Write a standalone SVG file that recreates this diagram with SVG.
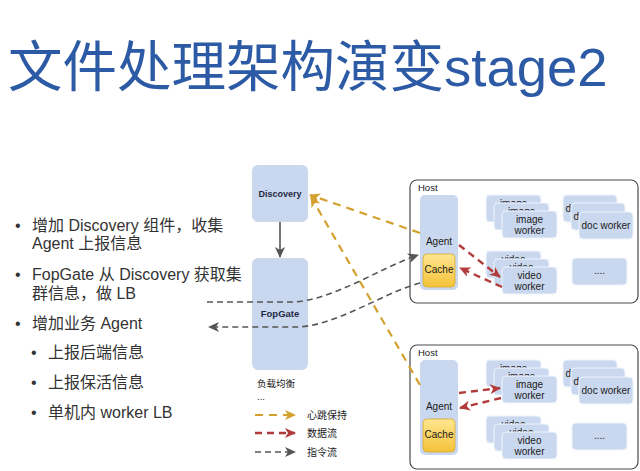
<svg xmlns="http://www.w3.org/2000/svg" width="640" height="471" viewBox="0 0 640 471">
<style>
text{font-family:"Liberation Sans","Noto Sans CJK SC",sans-serif}
.title{font-size:54.5px;fill:#2c5aa4}
.bl{font-size:16px;fill:#333}
.node{fill:#cad8ef}
.card{fill:#cad8ef;stroke:#eef3fb;stroke-width:1}
.nt{font-size:9.5px;font-weight:bold;fill:#1f2a44;text-anchor:middle}
.wt{font-size:10px;fill:#1a1a1a;text-anchor:middle}
.sm{font-size:9.5px;fill:#1a1a1a}
.host{fill:#fff;stroke:#4a4a4a;stroke-width:1.2}
.y{fill:none;stroke:#d4a12e;stroke-width:2.2;stroke-dasharray:8 6}
.r{fill:none;stroke:#b23b3b;stroke-width:2.4;stroke-dasharray:7 5}
.g{fill:none;stroke:#555;stroke-width:1.6;stroke-dasharray:6 4}
</style>
<defs>
<linearGradient id="cg" x1="0" y1="0" x2="0" y2="1"><stop offset="0" stop-color="#ffe690"/><stop offset="1" stop-color="#f4c23a"/></linearGradient>
<marker id="my" markerUnits="userSpaceOnUse" markerWidth="12" markerHeight="10" refX="10" refY="5" orient="auto"><path d="M0,0 L11,5 L0,10 L3,5 Z" fill="#d4a12e"/></marker>
<marker id="mr" markerUnits="userSpaceOnUse" markerWidth="12" markerHeight="10" refX="10" refY="5" orient="auto"><path d="M0,0 L11,5 L0,10 L3,5 Z" fill="#b23b3b"/></marker>
<marker id="mg" markerUnits="userSpaceOnUse" markerWidth="12" markerHeight="10" refX="10" refY="5" orient="auto"><path d="M0,0 L11,5 L0,10 L3,5 Z" fill="#555"/></marker>
</defs>
<rect width="640" height="471" fill="#fff"/>
<text class="title" x="8" y="86">文件处理架构演变stage2</text>
<g id="bullets">
<text class="bl" x="15" y="231">•</text>
<text class="bl" x="32" y="231">增加 Discovery 组件，收集</text>
<text class="bl" x="32" y="249">Agent 上报信息</text>
<text class="bl" x="15" y="280">•</text>
<text class="bl" x="32" y="280">FopGate 从 Discovery 获取集</text>
<text class="bl" x="32" y="299">群信息，做 LB</text>
<text class="bl" x="15" y="329">•</text>
<text class="bl" x="32" y="329">增加业务 Agent</text>
<text class="bl" x="31" y="358">•</text>
<text class="bl" x="48" y="358">上报后端信息</text>
<text class="bl" x="31" y="388">•</text>
<text class="bl" x="48" y="388">上报保活信息</text>
<text class="bl" x="31" y="418">•</text>
<text class="bl" x="48" y="418">单机内 worker LB</text>
</g>
<g id="discovery">
<rect class="node" x="252" y="165" width="56" height="57" rx="6"/>
<text class="nt" x="280" y="197" style="font-size:9px">Discovery</text>
</g>
<g id="fopgate">
<rect class="node" x="252" y="258" width="56" height="112" rx="6"/>
<text class="nt" x="280" y="317">FopGate</text>
</g>
<g id="lb-note">
<text class="sm" x="257" y="387">负载均衡</text>
<text class="sm" x="257" y="400">...</text>
</g>
<g id="host1">
<rect class="host" x="410" y="180" width="228" height="123" rx="7"/>
<text class="sm" x="418" y="191">Host</text>
<g id="agent1">
<rect class="node" x="420" y="195" width="38" height="95" rx="5"/>
<text class="wt" x="439" y="245">Agent</text>
<rect x="423" y="254" width="32" height="33" rx="4" fill="url(#cg)" stroke="#d8a92c" stroke-width="0.8"/>
<text class="wt" x="439" y="273">Cache</text>
</g>
<g id="image1">
<rect class="card" x="486" y="195" width="55" height="27" rx="4"/><text class="wt" x="513.5" y="206.5">image</text>
<rect class="card" x="494" y="203" width="55" height="27" rx="4"/><text class="wt" x="521.5" y="214.5">image</text>
<rect class="card" x="502" y="211" width="55" height="27" rx="4"/><text class="wt" x="529.5" y="222.5">image</text><text class="wt" x="529.5" y="233.5">worker</text>
</g>
<g id="doc1">
<rect class="card" x="563" y="195" width="54" height="27" rx="4"/><text class="wt" x="590" y="211.5">doc worker</text>
<rect class="card" x="571" y="203" width="54" height="27" rx="4"/><text class="wt" x="598" y="219.5">doc worker</text>
<rect class="card" x="579" y="212" width="54" height="27" rx="4"/><text class="wt" x="606" y="228.5">doc worker</text>
</g>
<g id="video1">
<rect class="card" x="486" y="251" width="55" height="27" rx="4"/><text class="wt" x="513.5" y="262.5">video</text>
<rect class="card" x="494" y="259" width="55" height="27" rx="4"/><text class="wt" x="521.5" y="270.5">video</text>
<rect class="card" x="502" y="267" width="55" height="27" rx="4"/><text class="wt" x="529.5" y="278.5">video</text><text class="wt" x="529.5" y="289.5">worker</text>
</g>
<g id="more1">
<rect class="card" x="572" y="258" width="55" height="27" rx="4"/><text class="wt" x="599.5" y="274">....</text>
</g>
</g>
<g id="host2" transform="translate(0,165)">
<rect class="host" x="410" y="180" width="228" height="124" rx="7"/>
<text class="sm" x="418" y="191">Host</text>
<g id="agent2">
<rect class="node" x="420" y="195" width="38" height="95" rx="5"/>
<text class="wt" x="439" y="245">Agent</text>
<rect x="423" y="254" width="32" height="33" rx="4" fill="url(#cg)" stroke="#d8a92c" stroke-width="0.8"/>
<text class="wt" x="439" y="273">Cache</text>
</g>
<g id="image2">
<rect class="card" x="486" y="195" width="55" height="27" rx="4"/><text class="wt" x="513.5" y="206.5">image</text>
<rect class="card" x="494" y="203" width="55" height="27" rx="4"/><text class="wt" x="521.5" y="214.5">image</text>
<rect class="card" x="502" y="211" width="55" height="27" rx="4"/><text class="wt" x="529.5" y="222.5">image</text><text class="wt" x="529.5" y="233.5">worker</text>
</g>
<g id="doc2">
<rect class="card" x="563" y="195" width="54" height="27" rx="4"/><text class="wt" x="590" y="211.5">doc worker</text>
<rect class="card" x="571" y="203" width="54" height="27" rx="4"/><text class="wt" x="598" y="219.5">doc worker</text>
<rect class="card" x="579" y="212" width="54" height="27" rx="4"/><text class="wt" x="606" y="228.5">doc worker</text>
</g>
<g id="video2">
<rect class="card" x="486" y="251" width="55" height="27" rx="4"/><text class="wt" x="513.5" y="262.5">video</text>
<rect class="card" x="494" y="259" width="55" height="27" rx="4"/><text class="wt" x="521.5" y="270.5">video</text>
<rect class="card" x="502" y="267" width="55" height="27" rx="4"/><text class="wt" x="529.5" y="278.5">video</text><text class="wt" x="529.5" y="289.5">worker</text>
</g>
<g id="more2">
<rect class="card" x="572" y="258" width="55" height="27" rx="4"/><text class="wt" x="599.5" y="274">....</text>
</g>
</g>
<g id="connectors">
<line x1="280" y1="222" x2="280" y2="257" stroke="#555" stroke-width="1.6" marker-end="url(#mg)"/>
<path class="y" d="M420,233 L310,195" marker-end="url(#my)"/>
<path class="y" d="M420,385 L311,197" marker-end="url(#my)"/>
<path class="g" d="M207,302 L290,302 C330,302 380,268 418,255" marker-end="url(#mg)"/>
<path class="g" d="M420,283 C380,294 335,327 295,327 L209,327" marker-end="url(#mg)"/>
<path class="r" d="M459,245 L500,277" marker-end="url(#mr)"/>
<path class="r" d="M502,287 L460,268" marker-end="url(#mr)"/>
<path class="r" d="M459,393 L500,388" marker-end="url(#mr)"/>
<path class="r" d="M501,398 L460,408" marker-end="url(#mr)"/>
</g>
<g id="legend">
<path class="y" d="M255,415 L295,415" marker-end="url(#my)"/>
<text class="sm" x="307" y="419" style="font-size:10px">心跳保持</text>
<path class="r" d="M255,433 L295,433" marker-end="url(#mr)"/>
<text class="sm" x="307" y="437" style="font-size:10px">数据流</text>
<path class="g" d="M255,452 L295,452" stroke-width="2" marker-end="url(#mg)"/>
<text class="sm" x="307" y="456" style="font-size:10px">指令流</text>
</g>
</svg>
